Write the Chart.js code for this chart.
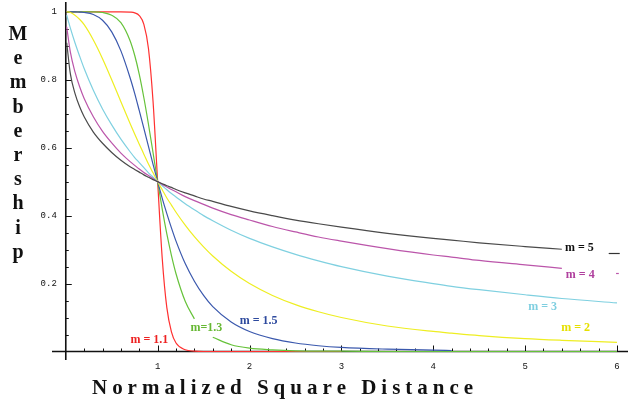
<!DOCTYPE html>
<html>
<head>
<meta charset="utf-8">
<script src="https://cdn.jsdelivr.net/npm/chart.js@4"></script>
<style>
    html, body { margin: 0; padding: 0; background: #ffffff; }
    canvas { display: block; }
</style>
</head>
<body>
<canvas id="membership-chart" width="629" height="402"></canvas>
<script>
// Normalized square distance (shared x values)
const distance = [0.01, 0.05, 0.1, 0.15, 0.2, 0.3, 0.4, 0.5, 0.6, 0.7, 0.75, 0.8, 0.85, 0.9, 0.95, 1,
    1.05, 1.1, 1.15, 1.2, 1.3, 1.4, 1.5, 1.6, 1.8, 2, 2.25, 2.5, 2.75, 3, 3.5, 4, 4.2, 4.5, 5, 5.4, 6];

// Membership values (null = no line there)
const m5 = [0.909, 0.817, 0.760, 0.721, 0.691, 0.646, 0.613, 0.586, 0.563, 0.544, 0.536, 0.528, 0.520, 0.513, 0.506, 0.5,
    0.494, 0.488, 0.483, 0.477, 0.467, 0.458, 0.449, 0.442, 0.427, 0.414, 0.400, 0.387, 0.376, 0.366, 0.348, 0.333, 0.328, 0.320, 0.309, 0.301, null];
const m4 = [0.956, 0.881, 0.823, 0.780, 0.745, 0.691, 0.648, 0.614, 0.584, 0.559, 0.548, 0.537, 0.527, 0.518, 0.509, 0.5,
    0.492, 0.484, 0.477, 0.470, 0.456, 0.444, 0.433, 0.422, 0.403, 0.387, 0.368, 0.352, 0.337, 0.325, 0.303, 0.284, 0.278, 0.268, 0.255, 0.245, null];
const m3 = [0.990, 0.952, 0.909, 0.870, 0.833, 0.769, 0.714, 0.667, 0.625, 0.588, 0.571, 0.556, 0.541, 0.526, 0.513, 0.5,
    0.488, 0.476, 0.465, 0.455, 0.435, 0.417, 0.400, 0.385, 0.357, 0.333, 0.308, 0.286, 0.267, 0.250, 0.222, 0.200, 0.192, 0.182, 0.167, 0.156, 0.143];
const m2 = [1.000, 0.998, 0.990, 0.978, 0.962, 0.917, 0.862, 0.800, 0.735, 0.671, 0.640, 0.610, 0.581, 0.552, 0.526, 0.5,
    0.476, 0.452, 0.431, 0.410, 0.372, 0.338, 0.308, 0.281, 0.236, 0.200, 0.165, 0.138, 0.117, 0.100, 0.075, 0.059, 0.054, 0.047, 0.038, 0.033, 0.027];
const m15 = [1.000, 1.000, 1.000, 0.999, 0.998, 0.992, 0.975, 0.941, 0.885, 0.806, 0.760, 0.709, 0.657, 0.604, 0.551, 0.5,
    0.451, 0.406, 0.364, 0.325, 0.259, 0.207, 0.165, 0.132, 0.087, 0.059, 0.038, 0.025, 0.017, 0.012, 0.007, 0.004, 0.003, null, null, null, null];
const m13 = [1.000, 1.000, 1.000, 1.000, 1.000, 1.000, 0.998, 0.990, 0.968, 0.915, 0.872, 0.816, 0.747, 0.669, 0.585, 0.5,
    0.419, 0.346, 0.283, 0.229, 0.148, 0.096, null, 0.042, 0.020, 0.010, 0.005, 0.002, 0.001, 0.001, 0.000, 0.000, 0.000, 0.000, 0.000, 0.000, 0.000];
const m11 = [1.000, 1.000, 1.000, 1.000, 1.000, 1.000, 1.000, 1.000, 1.000, 0.999, 0.997, 0.989, 0.963, 0.892, 0.736, 0.5,
    0.274, 0.129, 0.058, 0.025, 0.005, 0.001, 0.000, 0.000, 0.000, 0.000, 0.000, 0.000, 0.000, 0.000, null, null, null, null, null, null, null];

const seriesNames = ['m = 5', 'm = 4', 'm = 3', 'm = 2', 'm = 1.5', 'm=1.3', 'm = 1.1'];
const seriesValues = [m5, m4, m3, m2, m15, m13, m11];

// Axis ticks
const xTickValues = [1, 2, 3, 4, 5, 6];
const xTickLabels = ['1', '2', '3', '4', '5', '6'];
const yTickValues = [0.2, 0.4, 0.6, 0.8, 1];
const yTickLabels = ['0.2', '0.4', '0.6', '0.8', '1'];

const xTitle = 'Normalized Square Distance';
const yTitle = 'Membership';

// Line and label colors
const lineColors = ['#4a4a4a', '#bb55aa', '#7fd0e0', '#eeee22', '#3a58ad', '#66c23a', '#ff3030'];
const labelColors = ['#111111', '#b0409e', '#7fcfe0', '#e6e000', '#2e4a9e', '#66b833', '#ee2222'];

// Where each curve label sits, in data units
const labelAnchors = [
    { x: 5.59, y: 0.305 }, { x: 5.60, y: 0.225 }, { x: 5.19, y: 0.131 }, { x: 5.55, y: 0.069 },
    { x: 2.10, y: 0.090 }, { x: 1.53, y: 0.069 }, { x: 0.91, y: 0.034 },
];

// little stray legend strokes at the right edge (data units)
const strayMarks = [
    { x1: 5.91, x2: 6.03, y: 0.29, color: '#333333' },
    { x1: 5.99, x2: 6.02, y: 0.231, color: '#bb55aa' },
];

const datasets = seriesValues.map((values, i) => ({
    label: seriesNames[i],
    data: distance.map((d, k) => ({ x: d, y: values[k] })),
    borderColor: lineColors[i],
    borderWidth: 1.2,
    pointRadius: 0,
    cubicInterpolationMode: 'monotone',
    spanGaps: false,
    fill: false,
}));

const mathAxes = {
    id: 'mathAxes',
    beforeDatasetsDraw(chart) {
        const { ctx, scales: { x, y } } = chart;
        const x0 = x.getPixelForValue(0);
        const y0 = y.getPixelForValue(0);
        ctx.save();
        ctx.strokeStyle = '#111';
        ctx.lineWidth = 1.6;
        ctx.beginPath();
        ctx.moveTo(chart.chartArea.left, y0);
        ctx.lineTo(chart.chartArea.right, y0);
        ctx.moveTo(x0, chart.chartArea.top - 3);
        ctx.lineTo(x0, chart.chartArea.bottom);
        ctx.stroke();

        // minor + major ticks
        ctx.lineWidth = 1;
        ctx.beginPath();
        for (let k = 1; k <= 30; k++) {
            const px = Math.round(x.getPixelForValue(k * 0.2)) + 0.5;
            const len = k % 5 === 0 ? 6 : 3;
            ctx.moveTo(px, y0);
            ctx.lineTo(px, y0 - len);
        }
        for (let k = 1; k <= 20; k++) {
            const py = Math.round(y.getPixelForValue(k * 0.05)) + 0.5;
            const len = k % 4 === 0 ? 6 : 3;
            ctx.moveTo(x0, py);
            ctx.lineTo(x0 + len, py);
        }
        ctx.stroke();

        // tick labels
        ctx.fillStyle = '#111';
        ctx.font = '9px "Liberation Mono", monospace';
        ctx.textBaseline = 'middle';
        ctx.textAlign = 'center';
        xTickValues.forEach((v, i) => {
            ctx.fillText(xTickLabels[i], x.getPixelForValue(v), y0 + 15);
        });
        ctx.textAlign = 'right';
        yTickValues.forEach((v, i) => {
            ctx.fillText(yTickLabels[i], x0 - 9, y.getPixelForValue(v));
        });

        // axis titles
        ctx.font = 'bold 20px "Liberation Serif", serif';
        ctx.textAlign = 'center';
        ctx.textBaseline = 'alphabetic';
        yTitle.split('').forEach((ch, i) => {
            ctx.fillText(ch, 18, 40 + i * 24.2);
        });

        ctx.font = 'bold 21px "Liberation Serif", serif';
        ctx.textAlign = 'left';
        const chars = xTitle.split('');
        const widths = chars.map(ch => ctx.measureText(ch).width);
        const total = widths.reduce((a, b) => a + b, 0);
        const gap = (473 - 92 - total) / (chars.length - 1);
        let cx = 92;
        chars.forEach((ch, i) => {
            ctx.fillText(ch, cx, 394);
            cx += widths[i] + gap;
        });
        ctx.restore();
    },
    afterDatasetsDraw(chart) {
        const { ctx, scales: { x, y } } = chart;
        ctx.save();
        ctx.font = 'bold 12px "Liberation Serif", serif';
        ctx.textAlign = 'center';
        ctx.textBaseline = 'middle';
        labelAnchors.forEach((a, i) => {
            ctx.fillStyle = labelColors[i];
            ctx.fillText(seriesNames[i], x.getPixelForValue(a.x), y.getPixelForValue(a.y));
        });
        ctx.lineWidth = 1.2;
        strayMarks.forEach((s) => {
            const py = Math.round(y.getPixelForValue(s.y)) + 0.5;
            ctx.strokeStyle = s.color;
            ctx.beginPath();
            ctx.moveTo(x.getPixelForValue(s.x1), py);
            ctx.lineTo(x.getPixelForValue(s.x2), py);
            ctx.stroke();
        });
        ctx.restore();
    },
};

new Chart(document.getElementById('membership-chart'), {
    type: 'line',
    data: { datasets },
    options: {
        responsive: false,
        animation: false,
        layout: {
            padding: { left: 52, right: 1, top: 5, bottom: 42 },
        },
        scales: {
            x: { type: 'linear', min: -0.15, max: 6.12, display: false },
            y: { type: 'linear', min: -0.025, max: 1.02, display: false },
        },
        plugins: {
            legend: { display: false },
            tooltip: { enabled: false },
        },
    },
    plugins: [mathAxes],
});
</script>
</body>
</html>
